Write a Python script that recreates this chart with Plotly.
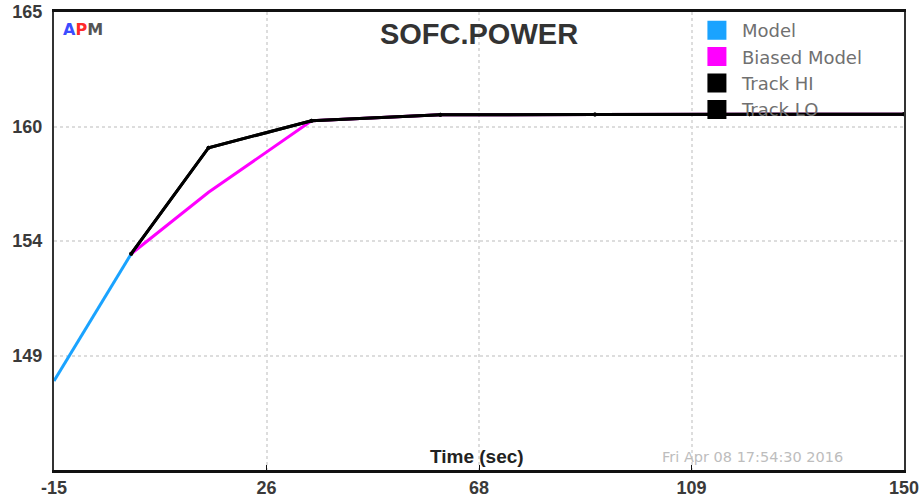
import plotly.graph_objects as go

# ---- data ----
time = [-15, 0, 15, 35, 60, 90, 120, 150]
model = [147.6, 153.6, None, None, None, None, None, None]
biased_model = [None, 153.6, 156.5, 159.87, 160.15, 160.17, 160.18, 160.18]
track_hi = [None, 153.6, 158.6, 159.87, 160.15, 160.17, 160.18, 160.18]
track_lo = [None, 153.6, 158.6, 159.87, 160.15, 160.17, 160.18, 160.18]

x_ticks = [-15, 26.25, 67.5, 108.75, 150]
x_ticktext = ["-15", "26", "68", "109", "150"]
y_ticks = [143.4, 148.8, 154.2, 159.6, 165]
y_ticktext = ["", "149", "154", "160", "165"]

series_names = ["Model", "Biased Model", "Track HI", "Track LO"]
series_colors = ["#1aa3ff", "#ff00ff", "#000000", "#000000"]
series_data = [model, biased_model, track_hi, track_lo]

ARIAL = "Liberation Sans, Arial, sans-serif"
WIDE = "DejaVu Sans, Verdana, sans-serif"

fig = go.Figure()
for name, color, vals in zip(series_names, series_colors, series_data):
    is_track = name.startswith("Track")
    fig.add_trace(go.Scatter(
        x=time, y=vals, mode="lines+markers" if is_track else "lines",
        line=dict(color=color, width=3),
        marker=dict(size=4, color=color),
        showlegend=False, hoverinfo="skip"))
# legend entries (square swatches)
for name, color in zip(series_names, series_colors):
    fig.add_trace(go.Scatter(
        x=[None], y=[None], mode="markers", name=name,
        marker=dict(symbol="square", size=18, color=color,
                    line=dict(color=color, width=3))))

fig.update_layout(
    width=921, height=502,
    margin=dict(l=54, r=17, t=12, b=32),
    paper_bgcolor="white", plot_bgcolor="white",
    font=dict(family=ARIAL),
    title=dict(text="SOFC.POWER", x=0.5, xref="paper", y=1 - 34 / 502,
               yref="container", yanchor="middle", xanchor="center",
               font=dict(size=29, color="#333333", family=ARIAL, weight="bold")),
    legend=dict(x=0.7505, y=1.0, xanchor="left", yanchor="top",
                bgcolor="rgba(0,0,0,0)", borderwidth=0,
                font=dict(size=18, color="#707070", family=WIDE),
                itemwidth=40, tracegroupgap=0),
    xaxis=dict(range=[-15, 150], tickvals=x_ticks, ticktext=x_ticktext,
               automargin=False,
               showgrid=True, gridcolor="#dddddd", griddash="dot", gridwidth=1.5,
               zeroline=False, showline=True, linecolor="#111111", linewidth=2.5,
               mirror=True, ticks="inside", ticklen=5, tickcolor="#111111",
               tickfont=dict(size=18, color="#3a3a3a", family=ARIAL, weight="bold")),
    yaxis=dict(range=[143.4, 165], tickvals=y_ticks, ticktext=y_ticktext,
               automargin=False,
               showgrid=True, gridcolor="#dddddd", griddash="dot", gridwidth=1.5,
               zeroline=False, showline=True, linecolor="#333333", linewidth=2,
               mirror=True, ticks="", ticklabelstandoff=6,
               tickfont=dict(size=18, color="#3a3a3a", family=ARIAL, weight="bold")),
    annotations=[
        dict(text="<span style='color:#3b4cff'>A</span><span style='color:#ff2a2a'>P</span><span style='color:#555555'>M</span>",
             x=0.008, y=0.961, xref="paper", yref="paper", xanchor="left", yanchor="middle",
             showarrow=False, font=dict(size=16, family=WIDE, weight="bold")),
        dict(text="Time (sec)", x=0.498, y=0.03, xref="paper", yref="paper",
             xanchor="center", yanchor="middle", showarrow=False,
             font=dict(size=19, color="#222222", family=ARIAL, weight="bold")),
        dict(text="Fri Apr 08 17:54:30 2016", x=0.822, y=0.028, xref="paper", yref="paper",
             xanchor="center", yanchor="middle", showarrow=False,
             font=dict(size=14.5, color="#bdbdbd", family=WIDE)),
    ],
)

fig.write_html("out.html", config={"displayModeBar": False},
               post_script="document.body.style.margin='0';document.body.style.overflow='hidden';")
